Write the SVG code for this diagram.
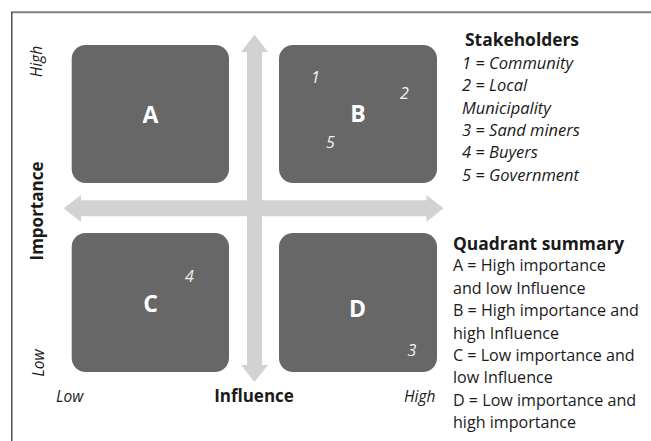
<svg xmlns="http://www.w3.org/2000/svg" width="651" height="441" viewBox="0 0 651 441">
<style>
.quad{fill:#666766}
.arrow{fill:#d1d2d4}
.letter{font-family:"Open Sans","Liberation Sans",sans-serif;font-weight:bold;font-size:23px;fill:#ffffff;text-anchor:middle}
.num{font-family:"Open Sans","Liberation Sans",sans-serif;font-style:italic;font-size:16px;fill:#f2f2f2}
.axis{font-family:"Open Sans","Liberation Sans",sans-serif;font-weight:bold;font-size:17px;fill:#1a1a1a;text-anchor:middle}
.tick{font-family:"Open Sans","Liberation Sans",sans-serif;font-style:italic;font-size:15.5px;fill:#1a1a1a}
.head{font-family:"Open Sans","Liberation Sans",sans-serif;font-weight:bold;font-size:17.4px;fill:#1a1a1a}
.item{font-family:"Open Sans","Liberation Sans",sans-serif;font-style:italic;font-size:16.5px;fill:#1a1a1a}
.body{font-family:"Open Sans","Liberation Sans",sans-serif;font-size:16.1px;fill:#1a1a1a}
</style>
<rect x="0" y="0" width="651" height="441" fill="#ffffff"/>
<g id="frame">
<line x1="11" y1="12.3" x2="651" y2="12.3" stroke="#808080" stroke-width="2"/>
<line x1="11.8" y1="12" x2="11.8" y2="441" stroke="#444444" stroke-width="1.4"/>
</g>
<g id="connectors">
<path class="arrow" d="M254.5,34.5 L268,52 L262,52 L262,365 L268,365 L254.5,382 L241,365 L247,365 L247,52 L241,52 Z"/>
<path class="arrow" d="M63.5,208.3 L81,195 L81,200.3 L426.5,200.3 L426.5,195 L443.5,208.3 L426.5,222 L426.5,216.3 L81,216.3 L81,222 Z"/>
</g>
<g id="quadrant-A">
<rect class="quad" x="71.7" y="45" width="157.3" height="138" rx="14"/>
<text class="letter" x="150.5" y="122.7">A</text>
</g>
<g id="quadrant-B">
<rect class="quad" x="279" y="45" width="158" height="138" rx="14"/>
<text class="letter" x="358" y="122">B</text>
<text class="num" x="311" y="83.3">1</text>
<text class="num" x="400" y="99.3">2</text>
<text class="num" x="326" y="148.3">5</text>
</g>
<g id="quadrant-C">
<rect class="quad" x="71.7" y="233" width="157.3" height="139" rx="14"/>
<text class="letter" x="150.5" y="311.5">C</text>
<text class="num" x="185" y="281.5">4</text>
</g>
<g id="quadrant-D">
<rect class="quad" x="279" y="233" width="158" height="139" rx="14"/>
<text class="letter" x="357.5" y="316.5">D</text>
<text class="num" x="407.5" y="355.7">3</text>
</g>
<g id="axis-labels">
<text class="tick" transform="translate(41.5,61.5) rotate(-90)" text-anchor="middle">High</text>
<text class="axis" transform="translate(43,211) rotate(-90)">Importance</text>
<text class="tick" transform="translate(43.5,363) rotate(-90)" text-anchor="middle">Low</text>
<text class="tick" x="56" y="402">Low</text>
<text class="axis" x="254" y="402">Influence</text>
<text class="tick" x="404" y="402">High</text>
</g>
<g id="stakeholders-legend">
<text class="head" x="465" y="45.7">Stakeholders</text>
<text class="item" x="462" y="68.8">1 = Community</text>
<text class="item" x="462" y="91.2">2 = Local</text>
<text class="item" x="462" y="113.6">Municipality</text>
<text class="item" x="462" y="136">3 = Sand miners</text>
<text class="item" x="462" y="158.4">4 = Buyers</text>
<text class="item" x="462" y="180.8">5 = Government</text>
</g>
<g id="quadrant-summary">
<text class="head" x="453" y="250">Quadrant summary</text>
<text class="body" x="453" y="271.4">A = High importance</text>
<text class="body" x="453" y="293.8">and low Influence</text>
<text class="body" x="453" y="316.2">B = High importance and</text>
<text class="body" x="453" y="338.6">high Influence</text>
<text class="body" x="453" y="361">C = Low importance and</text>
<text class="body" x="453" y="383.4">low Influence</text>
<text class="body" x="453" y="405.8">D = Low importance and</text>
<text class="body" x="453" y="428.2">high importance</text>
</g>
</svg>
